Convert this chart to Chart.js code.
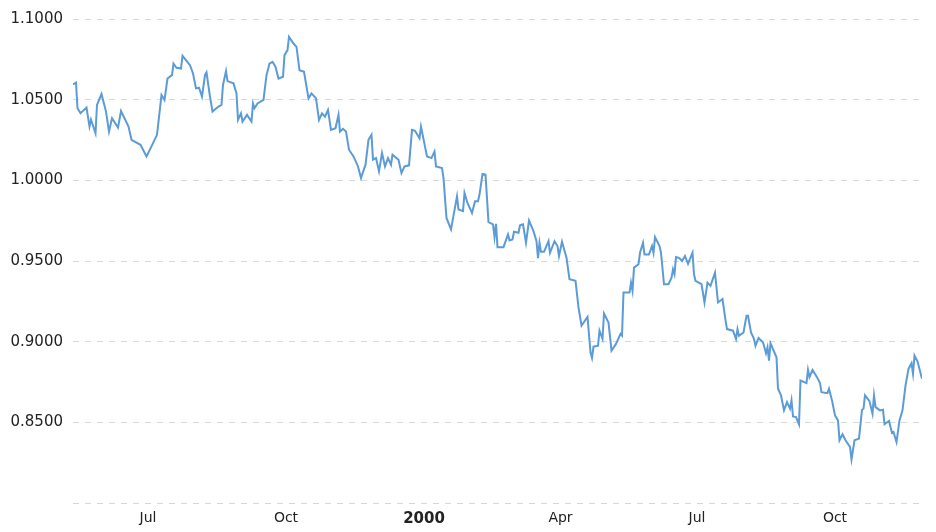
<!DOCTYPE html>
<html>
<head>
<meta charset="utf-8">
<script src="https://cdn.jsdelivr.net/npm/chart.js@4.4.1/dist/chart.umd.min.js"></script>
<style>
    html, body { margin: 0; padding: 0; background: #fff; }
    #wrap { width: 936px; height: 532px; position: relative; }
</style>
</head>
<body>
<div id="wrap"><canvas id="rateChart"></canvas></div>
<script>
// EUR/USD closing rate, May 1999 - Nov 2000
const dates = [
    '1999-05-12', '1999-05-14', '1999-05-15', '1999-05-17', '1999-05-21', '1999-05-23', '1999-05-24', '1999-05-27',
    '1999-05-28', '1999-05-31', '1999-06-03', '1999-06-05', '1999-06-07', '1999-06-11', '1999-06-13', '1999-06-18',
    '1999-06-20', '1999-06-26', '1999-06-30', '1999-07-03', '1999-07-07', '1999-07-10', '1999-07-12', '1999-07-14',
    '1999-07-17', '1999-07-18', '1999-07-20', '1999-07-23', '1999-07-24', '1999-07-29', '1999-07-31', '1999-08-02',
    '1999-08-04', '1999-08-06', '1999-08-08', '1999-08-09', '1999-08-11', '1999-08-13', '1999-08-17', '1999-08-19',
    '1999-08-20', '1999-08-22', '1999-08-23', '1999-08-27', '1999-08-29', '1999-08-30', '1999-09-01', '1999-09-02',
    '1999-09-05', '1999-09-08', '1999-09-09', '1999-09-10', '1999-09-12', '1999-09-16', '1999-09-18', '1999-09-20',
    '1999-09-22', '1999-09-24', '1999-09-26', '1999-09-29', '1999-09-30', '1999-10-02', '1999-10-03', '1999-10-06',
    '1999-10-08', '1999-10-09', '1999-10-10', '1999-10-13', '1999-10-16', '1999-10-18', '1999-10-21', '1999-10-23',
    '1999-10-25', '1999-10-27', '1999-10-29', '1999-10-31', '1999-11-03', '1999-11-05', '1999-11-06', '1999-11-08',
    '1999-11-10', '1999-11-12', '1999-11-15', '1999-11-18', '1999-11-20', '1999-11-23', '1999-11-25', '1999-11-27',
    '1999-11-28', '1999-11-30', '1999-12-02', '1999-12-04', '1999-12-06', '1999-12-08', '1999-12-10', '1999-12-11',
    '1999-12-15', '1999-12-17', '1999-12-19', '1999-12-22', '1999-12-24', '1999-12-26', '1999-12-29', '1999-12-30',
    '2000-01-03', '2000-01-06', '2000-01-08', '2000-01-09', '2000-01-13', '2000-01-14', '2000-01-16', '2000-01-19',
    '2000-01-23', '2000-01-24', '2000-01-27', '2000-01-28', '2000-01-30', '2000-02-02', '2000-02-04', '2000-02-06',
    '2000-02-07', '2000-02-09', '2000-02-11', '2000-02-13', '2000-02-16', '2000-02-17', '2000-02-18', '2000-02-19',
    '2000-02-23', '2000-02-26', '2000-02-27', '2000-02-29', '2000-03-01', '2000-03-04', '2000-03-05', '2000-03-07',
    '2000-03-09', '2000-03-11', '2000-03-14', '2000-03-16', '2000-03-17', '2000-03-18', '2000-03-19', '2000-03-21',
    '2000-03-24', '2000-03-25', '2000-03-28', '2000-03-30', '2000-03-31', '2000-04-02', '2000-04-05', '2000-04-07',
    '2000-04-11', '2000-04-13', '2000-04-15', '2000-04-19', '2000-04-21', '2000-04-22', '2000-04-23', '2000-04-26',
    '2000-04-27', '2000-04-29', '2000-04-30', '2000-05-03', '2000-05-05', '2000-05-08', '2000-05-11', '2000-05-12',
    '2000-05-13', '2000-05-17', '2000-05-18', '2000-05-19', '2000-05-20', '2000-05-23', '2000-05-24', '2000-05-26',
    '2000-05-27', '2000-05-30', '2000-06-01', '2000-06-02', '2000-06-03', '2000-06-06', '2000-06-07', '2000-06-09',
    '2000-06-12', '2000-06-14', '2000-06-15', '2000-06-16', '2000-06-17', '2000-06-19', '2000-06-21', '2000-06-23',
    '2000-06-25', '2000-06-28', '2000-06-29', '2000-06-30', '2000-07-04', '2000-07-06', '2000-07-08', '2000-07-10',
    '2000-07-13', '2000-07-15', '2000-07-18', '2000-07-20', '2000-07-21', '2000-07-25', '2000-07-27', '2000-07-28',
    '2000-07-29', '2000-08-01', '2000-08-03', '2000-08-04', '2000-08-06', '2000-08-08', '2000-08-09', '2000-08-11',
    '2000-08-14', '2000-08-16', '2000-08-17', '2000-08-18', '2000-08-19', '2000-08-23', '2000-08-24', '2000-08-26',
    '2000-08-28', '2000-08-30', '2000-09-01', '2000-09-02', '2000-09-03', '2000-09-05', '2000-09-07', '2000-09-08',
    '2000-09-12', '2000-09-13', '2000-09-14', '2000-09-16', '2000-09-19', '2000-09-21', '2000-09-22', '2000-09-26',
    '2000-09-27', '2000-09-29', '2000-10-01', '2000-10-03', '2000-10-04', '2000-10-06', '2000-10-08', '2000-10-11',
    '2000-10-12', '2000-10-14', '2000-10-17', '2000-10-19', '2000-10-20', '2000-10-21', '2000-10-24', '2000-10-26',
    '2000-10-27', '2000-10-28', '2000-10-31', '2000-11-02', '2000-11-03', '2000-11-06', '2000-11-08', '2000-11-09',
    '2000-11-11', '2000-11-13', '2000-11-15', '2000-11-17', '2000-11-19', '2000-11-21', '2000-11-22', '2000-11-23',
    '2000-11-25', '2000-11-28'
];

const rates = [
    1.0594, 1.0605, 1.0447, 1.0416, 1.0451, 1.0333, 1.0377, 1.0292,
    1.0467, 1.0535, 1.0426, 1.0302, 1.0385, 1.0327, 1.0430, 1.0333,
    1.0251, 1.0220, 1.0148, 1.0204, 1.0282, 1.0529, 1.0498, 1.0631,
    1.0652, 1.0724, 1.0698, 1.0693, 1.0772, 1.0714, 1.0662, 1.0570,
    1.0574, 1.0519, 1.0652, 1.0669, 1.0539, 1.0426, 1.0457, 1.0467,
    1.0591, 1.0677, 1.0615, 1.0601, 1.0539, 1.0375, 1.0416, 1.0364,
    1.0406, 1.0364, 1.0477, 1.0447, 1.0477, 1.0498, 1.0652, 1.0724,
    1.0735, 1.0704, 1.0631, 1.0642, 1.0776, 1.0807, 1.0889, 1.0848,
    1.0827, 1.0755, 1.0683, 1.0673, 1.0508, 1.0539, 1.0508, 1.0375,
    1.0416, 1.0395, 1.0436, 1.0313, 1.0323, 1.0406, 1.0302, 1.0319,
    1.0302, 1.0190, 1.0148, 1.0086, 1.0014, 1.0097, 1.0251, 1.0282,
    1.0128, 1.0138, 1.0056, 1.0169, 1.0086, 1.0138, 1.0097, 1.0159,
    1.0128, 1.0045, 1.0086, 1.0093, 1.0313, 1.0307, 1.0261, 1.0333,
    1.0148, 1.0138, 1.0179, 1.0086, 1.0076, 1.0014, 0.9767, 0.9696,
    0.9901, 0.9819, 0.9809, 0.9922, 0.9860, 0.9798, 0.9870, 0.9870,
    0.9912, 1.0039, 1.0035, 0.9741, 0.9727, 0.9648, 0.9730, 0.9586,
    0.9586, 0.9665, 0.9628, 0.9634, 0.9681, 0.9675, 0.9722, 0.9727,
    0.9613, 0.9751, 0.9685, 0.9623, 0.9517, 0.9613, 0.9557, 0.9557,
    0.9623, 0.9551, 0.9623, 0.9593, 0.9531, 0.9619, 0.9520, 0.9387,
    0.9377, 0.9212, 0.9099, 0.9154, 0.8934, 0.8899, 0.8969, 0.8975,
    0.9068, 0.9017, 0.9175, 0.9119, 0.8944, 0.8986, 0.9048, 0.9037,
    0.9304, 0.9304, 0.9366, 0.9315, 0.9459, 0.9480, 0.9551, 0.9613,
    0.9541, 0.9541, 0.9593, 0.9551, 0.9648, 0.9593, 0.9551, 0.9356,
    0.9356, 0.9397, 0.9449, 0.9418, 0.9525, 0.9520, 0.9500, 0.9531,
    0.9483, 0.9551, 0.9418, 0.9377, 0.9356, 0.9243, 0.9366, 0.9346,
    0.9428, 0.9243, 0.9264, 0.9134, 0.9078, 0.9068, 0.9017, 0.9078,
    0.9037, 0.9057, 0.9160, 0.9160, 0.9057, 0.9017, 0.8975, 0.9023,
    0.8996, 0.8928, 0.8965, 0.8883, 0.8990, 0.8903, 0.8708, 0.8667,
    0.8574, 0.8625, 0.8585, 0.8636, 0.8537, 0.8533, 0.8488, 0.8759,
    0.8743, 0.8825, 0.8780, 0.8825, 0.8780, 0.8743, 0.8687, 0.8681,
    0.8708, 0.8636, 0.8543, 0.8512, 0.8389, 0.8426, 0.8389, 0.8348,
    0.8270, 0.8389, 0.8399, 0.8578, 0.8584, 0.8667, 0.8631, 0.8554,
    0.8667, 0.8594, 0.8574, 0.8578, 0.8488, 0.8508, 0.8434, 0.8440,
    0.8378, 0.8512, 0.8574, 0.8728, 0.8831, 0.8866, 0.8801, 0.8914,
    0.8878, 0.8770
];

// x axis labels: first day of each quarter
const tickDates = ['1999-07-01', '1999-10-01', '2000-01-01', '2000-04-01', '2000-07-01', '2000-10-01'];
const monthNames = ['Jan', 'Feb', 'Mar', 'Apr', 'May', 'Jun', 'Jul', 'Aug', 'Sep', 'Oct', 'Nov', 'Dec'];

const yMin = 0.80;
const yMax = 1.10;
const yStep = 0.05;

const toTime = (s) => Date.parse(s + 'T00:00:00Z');

const points = dates.map((d, i) => ({ x: toTime(d), y: rates[i] }));

const tickLabel = (value) => {
    const d = new Date(value);
    if (d.getUTCMonth() === 0) {
        return String(d.getUTCFullYear());
    }
    return monthNames[d.getUTCMonth()];
};

new Chart(document.getElementById('rateChart'), {
    type: 'line',
    data: {
        datasets: [{
            data: points,
            borderColor: '#5b9bd7',
            borderWidth: 2,
            pointRadius: 0,
            tension: 0,
            fill: false,
        }],
    },
    options: {
        responsive: true,
        maintainAspectRatio: false,
        animation: false,
        layout: {
            padding: { top: 9, right: 14, bottom: 0, left: 0 },
        },
        plugins: {
            legend: { display: false },
            tooltip: { enabled: false },
        },
        scales: {
            x: {
                type: 'linear',
                min: toTime(dates[0]),
                max: toTime(dates[dates.length - 1]),
                grid: { display: false, drawTicks: false },
                border: { display: false },
                afterBuildTicks: (scale) => {
                    scale.ticks = tickDates.map((d) => ({ value: toTime(d) }));
                },
                afterFit: (scale) => {
                    scale.height = 29;
                },
                ticks: {
                    autoSkip: false,
                    maxRotation: 0,
                    padding: 7,
                    color: '#222',
                    callback: (value) => tickLabel(value),
                    font: (ctx) => {
                        const isYear = ctx.tick && new Date(ctx.tick.value).getUTCMonth() === 0;
                        return { family: 'DejaVu Sans', size: isYear ? 15 : 14, weight: isYear ? 'bold' : 'normal' };
                    },
                },
            },
            y: {
                min: yMin,
                max: yMax,
                grid: {
                    color: '#d8d8d8',
                    lineWidth: 1,
                    drawTicks: false,
                },
                border: { display: false, dash: [6, 6] },
                afterFit: (scale) => {
                    scale.width = 73;
                },
                ticks: {
                    stepSize: yStep,
                    padding: 10,
                    color: '#222',
                    font: { family: 'DejaVu Sans', size: 15 },
                    callback: (value) => (Math.abs(value - yMin) < 1e-9 ? '' : value.toFixed(4)),
                },
            },
        },
    },
});
</script>
</body>
</html>
